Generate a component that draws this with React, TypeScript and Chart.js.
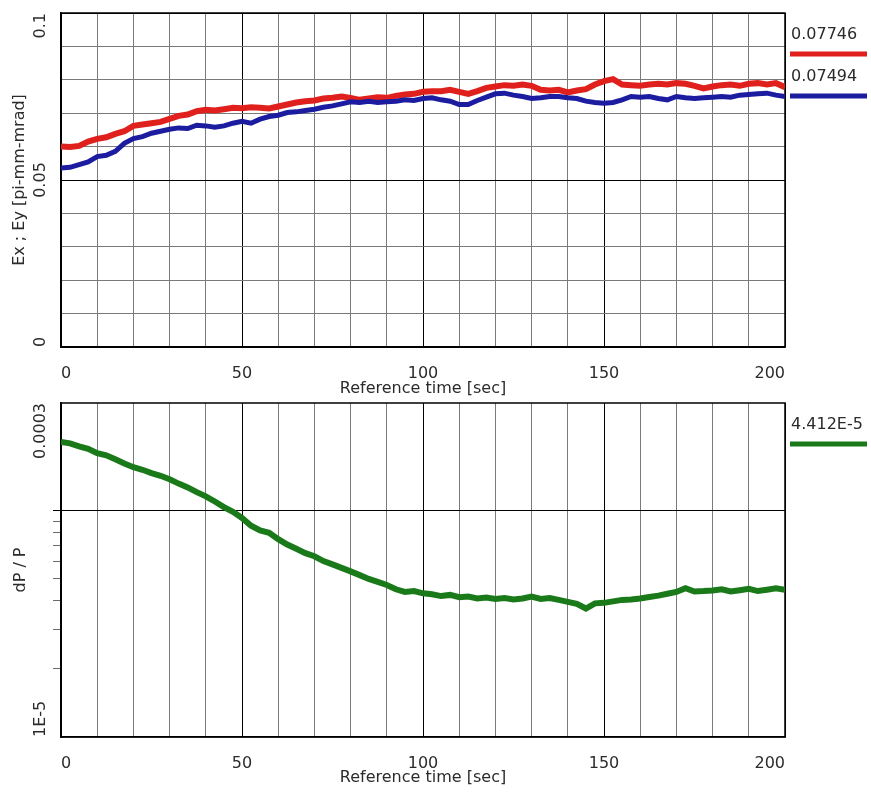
import React, { useEffect, useRef } from "react";
import { Chart, registerables } from "chart.js";

Chart.register(...registerables);

// ---------- data ----------
const TIME = [
  0, 2.5, 5, 7.5, 10, 12.5, 15, 17.5, 20, 22.5,
  25, 27.5, 30, 32.5, 35, 37.5, 40, 42.5, 45, 47.5,
  50, 52.5, 55, 57.5, 60, 62.5, 65, 67.5, 70, 72.5,
  75, 77.5, 80, 82.5, 85, 87.5, 90, 92.5, 95, 97.5,
  100, 102.5, 105, 107.5, 110, 112.5, 115, 117.5, 120, 122.5,
  125, 127.5, 130, 132.5, 135, 137.5, 140, 142.5, 145, 147.5,
  150, 152.5, 155, 157.5, 160, 162.5, 165, 167.5, 170, 172.5,
  175, 177.5, 180, 182.5, 185, 187.5, 190, 192.5, 195, 197.5,
  200,
];

const EX = [
  0.0600, 0.0599, 0.0602, 0.0615, 0.0623, 0.0628, 0.0638, 0.0646, 0.0662, 0.0666,
  0.0670, 0.0674, 0.0683, 0.0692, 0.0696, 0.0706, 0.0710, 0.0708, 0.0712, 0.0716,
  0.0715, 0.0718, 0.0716, 0.0714, 0.0720, 0.0726, 0.0732, 0.0736, 0.0738, 0.0744,
  0.0746, 0.0750, 0.0746, 0.0740, 0.0744, 0.0748, 0.0746, 0.0752, 0.0756, 0.0758,
  0.0764, 0.0766, 0.0766, 0.0770, 0.0764, 0.0758, 0.0766, 0.0776, 0.0780, 0.0784,
  0.0782, 0.0786, 0.0782, 0.0770, 0.0768, 0.0770, 0.0762, 0.0768, 0.0772, 0.0786,
  0.0796, 0.0802, 0.0786, 0.0784, 0.0782, 0.0786, 0.0788, 0.0786, 0.0790, 0.0788,
  0.0782, 0.0774, 0.0780, 0.0784, 0.0786, 0.0782, 0.0788, 0.0790, 0.0786, 0.0790,
  0.0778,
];

const EY = [
  0.0536, 0.0538, 0.0546, 0.0554, 0.0570, 0.0574, 0.0586, 0.0610, 0.0624, 0.0630,
  0.0640, 0.0646, 0.0652, 0.0656, 0.0654, 0.0664, 0.0662, 0.0658, 0.0662, 0.0670,
  0.0676, 0.0670, 0.0682, 0.0690, 0.0694, 0.0702, 0.0704, 0.0708, 0.0712, 0.0718,
  0.0722, 0.0728, 0.0734, 0.0732, 0.0736, 0.0732, 0.0734, 0.0736, 0.0740, 0.0738,
  0.0744, 0.0746, 0.0740, 0.0736, 0.0726, 0.0726, 0.0738, 0.0748, 0.0758, 0.0760,
  0.0754, 0.0750, 0.0744, 0.0746, 0.0750, 0.0750, 0.0746, 0.0744, 0.0736, 0.0732,
  0.0730, 0.0732, 0.0740, 0.0750, 0.0748, 0.0750, 0.0744, 0.0740, 0.0750, 0.0746,
  0.0744, 0.0746, 0.0748, 0.0750, 0.0748, 0.0754, 0.0756, 0.0758, 0.0760, 0.0754,
  0.0750,
];

const DPP = [
  2.02e-4, 1.99e-4, 1.93e-4, 1.88e-4, 1.80e-4, 1.76e-4, 1.69e-4, 1.62e-4, 1.56e-4, 1.52e-4,
  1.47e-4, 1.43e-4, 1.38e-4, 1.32e-4, 1.27e-4, 1.21e-4, 1.16e-4, 1.10e-4, 1.04e-4, 0.99e-4,
  9.3e-5, 8.6e-5, 8.2e-5, 8.0e-5, 7.5e-5, 7.1e-5, 6.8e-5, 6.5e-5, 6.3e-5, 6.0e-5,
  5.8e-5, 5.6e-5, 5.4e-5, 5.2e-5, 5.0e-5, 4.85e-5, 4.7e-5, 4.5e-5, 4.38e-5, 4.42e-5,
  4.32e-5, 4.28e-5, 4.20e-5, 4.25e-5, 4.15e-5, 4.18e-5, 4.10e-5, 4.14e-5, 4.08e-5, 4.12e-5,
  4.06e-5, 4.10e-5, 4.18e-5, 4.08e-5, 4.12e-5, 4.04e-5, 3.96e-5, 3.88e-5, 3.70e-5, 3.90e-5,
  3.92e-5, 3.98e-5, 4.04e-5, 4.06e-5, 4.10e-5, 4.16e-5, 4.22e-5, 4.30e-5, 4.38e-5, 4.55e-5,
  4.40e-5, 4.42e-5, 4.45e-5, 4.50e-5, 4.40e-5, 4.46e-5, 4.52e-5, 4.42e-5, 4.48e-5, 4.55e-5,
  4.48e-5,
];

const X_LABELS = [0, 50, 100, 150, 200];
const X_MAJOR = [50, 100, 150];
const X_TITLE = "Reference time [sec]";

const TOP_Y_TICKS = [0, 0.05, 0.1];
const TOP_Y_TEXTS = ["0", "0.05", "0.1"];
const TOP_Y_TITLE = "Ex ; Ey [pi-mm-mrad]";

const BOT_Y_TICKS = [1e-5, 3e-4];
const BOT_Y_TEXTS = ["1E-5", "0.0003"];
const BOT_Y_MINOR = [2e-5, 3e-5, 4e-5, 5e-5, 6e-5, 7e-5, 8e-5, 9e-5];
const BOT_Y_MAJOR = [1e-4];
const BOT_Y_TITLE = "dP / P";

const TOP_LEGEND = ["0.07746", "0.07494"];
const BOT_LEGEND = ["4.412E-5"];

// ---------- style ----------
const FONT = "'DejaVu Sans', 'Liberation Sans', sans-serif";
const TEXT = "#2b2b2b";
const RED = "#e0201c";
const BLUE = "#1c1ca0";
const GREEN = "#1a7a1a";

function overlay(yVals: number[], yTexts: string[], legTexts: string[], legColors: string[]) {
  return {
    id: "overlay",
    beforeDatasetsDraw(chart: any) {
      const { ctx, chartArea: a } = chart;
      ctx.save();
      ctx.strokeStyle = "#000";
      ctx.lineWidth = 1.5;
      ctx.strokeRect(a.left, a.top, a.right - a.left, a.bottom - a.top);
      ctx.restore();
    },
    afterDraw(chart: any) {
      const { ctx, chartArea: a } = chart;
      const ys = chart.scales.y;
      ctx.save();
      ctx.font = `16px ${FONT}`;
      ctx.fillStyle = TEXT;
      ctx.textBaseline = "middle";
      ctx.textAlign = "center";
      yVals.forEach((v, i) => {
        const t = yTexts[i];
        const w = ctx.measureText(t).width;
        let c = ys.getPixelForValue(v);
        c = Math.max(a.top + w / 2, Math.min(a.bottom - w / 2, c));
        ctx.save();
        ctx.translate(41, c);
        ctx.rotate(-Math.PI / 2);
        ctx.fillText(t, 0, 0);
        ctx.restore();
      });
      ctx.textAlign = "left";
      legTexts.forEach((t, i) => {
        const y0 = a.top + 22 + i * 42;
        ctx.fillStyle = TEXT;
        ctx.fillText(t, a.right + 6, y0);
        ctx.strokeStyle = legColors[i];
        ctx.lineWidth = 5;
        ctx.beginPath();
        ctx.moveTo(a.right + 5, y0 + 19);
        ctx.lineTo(a.right + 82, y0 + 19);
        ctx.stroke();
      });
      ctx.restore();
    },
  };
}

function xScale(height: number, titlePadBottom: number) {
  return {
    type: "linear",
    min: 0,
    max: 200,
    afterFit: (s: any) => {
      s.height = height;
    },
    ticks: {
      stepSize: 10,
      autoSkip: false,
      maxRotation: 0,
      minRotation: 0,
      align: "inner",
      padding: 17,
      font: { family: FONT, size: 16 },
      color: TEXT,
      callback: (v: any) => (X_LABELS.includes(Number(v)) ? String(v) : ""),
    },
    grid: {
      color: (c: any) => {
        const v = c.tick ? c.tick.value : 0;
        return X_MAJOR.includes(v) || v === 0 || v === 200 ? "#000" : "#7a7a7a";
      },
      lineWidth: 1,
      drawTicks: false,
    },
    border: { display: true, color: "#000", width: 1.5 },
    title: {
      display: true,
      text: X_TITLE,
      color: TEXT,
      font: { family: FONT, size: 16 },
      padding: { top: 0, bottom: titlePadBottom },
    },
  };
}

function TopChart() {
  const ref = useRef<HTMLCanvasElement>(null);
  useEffect(() => {
    const chart = new Chart(ref.current as HTMLCanvasElement, {
      type: "line",
      data: {
        datasets: [
          {
            label: "Ey",
            data: TIME.map((t, i) => ({ x: t, y: EY[i] })),
            borderColor: BLUE,
            borderWidth: 5,
            pointRadius: 0,
            tension: 0,
          },
          {
            label: "Ex",
            data: TIME.map((t, i) => ({ x: t, y: EX[i] })),
            borderColor: RED,
            borderWidth: 6,
            pointRadius: 0,
            tension: 0,
          },
        ],
      },
      options: {
        responsive: false,
        animation: false,
        events: [],
        layout: { padding: { top: 13, right: 86, left: 0, bottom: 0 } },
        plugins: { legend: { display: false }, tooltip: { enabled: false } },
        scales: {
          x: xScale(53, 2) as any,
          y: {
            type: "linear",
            min: 0,
            max: 0.1,
            afterFit: (s: any) => {
              s.width = 61;
            },
            ticks: { display: false, stepSize: 0.01 },
            grid: {
              color: (c: any) => {
                const v = c.tick ? c.tick.value : 0;
                return Math.abs(v - 0.05) < 1e-9 || v < 1e-9 || v > 0.0999 ? "#000" : "#7a7a7a";
              },
              drawTicks: false,
            },
            border: { display: true, color: "#000", width: 1.5 },
            title: {
              display: true,
              text: TOP_Y_TITLE,
              color: TEXT,
              font: { family: FONT, size: 16 },
              padding: { top: 10, bottom: 0 },
            },
          },
        },
      },
      plugins: [overlay(TOP_Y_TICKS, TOP_Y_TEXTS, TOP_LEGEND, [RED, BLUE])],
    });
    return () => chart.destroy();
  }, []);
  return <canvas ref={ref} width={871} height={400} style={{ display: "block", width: 871, height: 400 }} />;
}

function BottomChart() {
  const ref = useRef<HTMLCanvasElement>(null);
  useEffect(() => {
    const allTicks = [BOT_Y_TICKS[0], ...BOT_Y_MINOR, ...BOT_Y_MAJOR, BOT_Y_TICKS[1]];
    const chart = new Chart(ref.current as HTMLCanvasElement, {
      type: "line",
      data: {
        datasets: [
          {
            label: "dP/P",
            data: TIME.map((t, i) => ({ x: t, y: DPP[i] })),
            borderColor: GREEN,
            borderWidth: 6,
            pointRadius: 0,
            tension: 0,
          },
        ],
      },
      options: {
        responsive: false,
        animation: false,
        events: [],
        layout: { padding: { top: 3, right: 86, left: 0, bottom: 0 } },
        plugins: { legend: { display: false }, tooltip: { enabled: false } },
        scales: {
          x: xScale(55, 5) as any,
          y: {
            type: "logarithmic",
            min: 1e-5,
            max: 3e-4,
            afterBuildTicks: (s: any) => {
              s.ticks = allTicks.map((v) => ({ value: v }));
            },
            afterFit: (s: any) => {
              s.width = 61;
            },
            ticks: { display: false },
            grid: {
              color: (c: any) => {
                const v = c.tick ? c.tick.value : 0;
                return BOT_Y_MAJOR.includes(v) ? "#000" : "rgba(0,0,0,0)";
              },
              drawTicks: true,
              tickLength: 8,
              tickColor: (c: any) => {
                const v = c.tick ? c.tick.value : 0;
                if (BOT_Y_MAJOR.includes(v)) return "#000";
                if (BOT_Y_MINOR.includes(v)) return "#6a6a6a";
                return "rgba(0,0,0,0)";
              },
            },
            border: { display: true, color: "#000", width: 1.5 },
            title: {
              display: true,
              text: BOT_Y_TITLE,
              color: TEXT,
              font: { family: FONT, size: 16 },
              padding: { top: 11, bottom: 0 },
            },
          } as any,
        },
      },
      plugins: [overlay(BOT_Y_TICKS, BOT_Y_TEXTS, BOT_LEGEND, [GREEN])],
    });
    return () => chart.destroy();
  }, []);
  return <canvas ref={ref} width={871} height={392} style={{ display: "block", width: 871, height: 392 }} />;
}

export default function App() {
  return (
    <div style={{ position: "absolute", left: 0, top: 0, width: 871, height: 792, background: "#fff" }}>
      <TopChart />
      <BottomChart />
    </div>
  );
}
